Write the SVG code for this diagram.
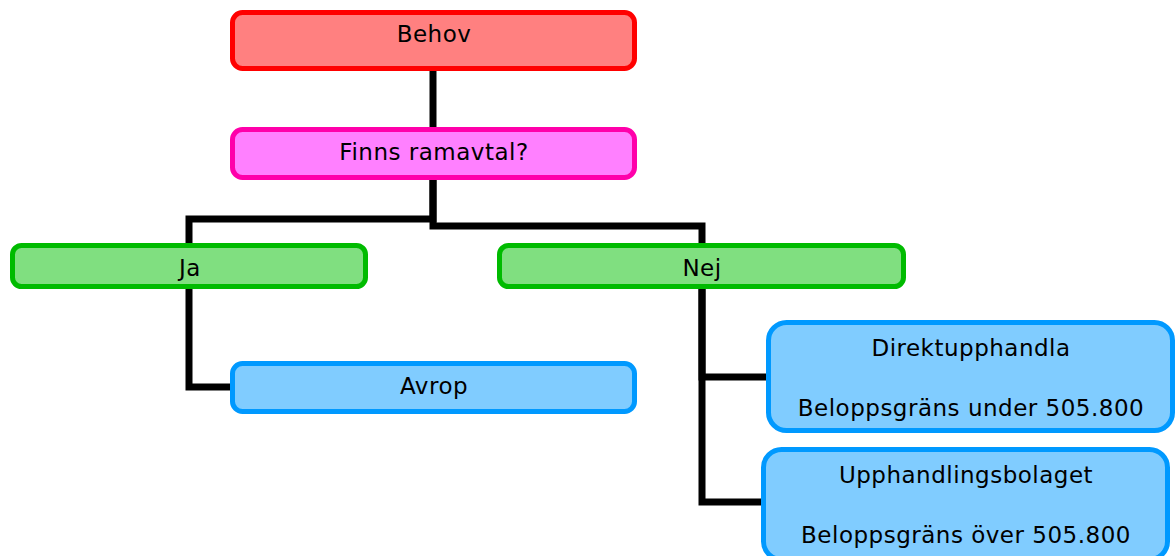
<svg xmlns="http://www.w3.org/2000/svg" width="1176" height="556" viewBox="0 0 1176 556">
<style>
.c{fill:none;stroke:#000;stroke-width:7;stroke-linejoin:miter;stroke-linecap:butt}
.b{stroke-width:5}
.t{font-family:"DejaVu Sans",Verdana,sans-serif;font-size:23px;letter-spacing:0.5px;fill:#000;text-anchor:middle}
.red{fill:#FF8080;stroke:#FF0000}
.pink{fill:#FF80FF;stroke:#FF00AA}
.green{fill:#80DF80;stroke:#00BB00}
.blue{fill:#80CCFF;stroke:#0099FF}
</style>
<rect width="1176" height="556" fill="#fff"/>
<g id="connectors">
<path class="c" d="M433 71 V127"/>
<path class="c" d="M433 180 V219 H189 V245"/>
<path class="c" d="M433 180 V226 H702 V243"/>
<path class="c" d="M189 289 V387 H230"/>
<path class="c" d="M702 289 V377 H766"/>
<path class="c" d="M702 289 V502 H761"/>
</g>
<g id="behov"><rect class="b red" x="232.5" y="12.5" width="402" height="56" rx="10"/><text class="t" x="434" y="42">Behov</text></g>
<g id="finns"><rect class="b pink" x="232.5" y="129.5" width="402" height="48" rx="10"/><text class="t" x="434" y="160">Finns ramavtal?</text></g>
<g id="ja"><rect class="b green" x="12.5" y="245.5" width="353" height="41" rx="9"/><text class="t" x="190" y="276">Ja</text></g>
<g id="nej"><rect class="b green" x="499.5" y="245.5" width="404" height="41" rx="9"/><text class="t" x="702" y="276">Nej</text></g>
<g id="avrop"><rect class="b blue" x="232.5" y="363.5" width="402" height="48" rx="10"/><text class="t" x="434" y="394">Avrop</text></g>
<g id="direkt"><rect class="b blue" x="768.5" y="322.5" width="404" height="108" rx="18"/><text class="t" x="971" y="356">Direktupphandla</text><text class="t" x="971" y="416">Beloppsgräns  under 505.800</text></g>
<g id="upph"><rect class="b blue" x="763.5" y="449.5" width="404" height="110" rx="18"/><text class="t" x="966" y="483">Upphandlingsbolaget</text><text class="t" x="966" y="543">Beloppsgräns över 505.800</text></g>
</svg>
